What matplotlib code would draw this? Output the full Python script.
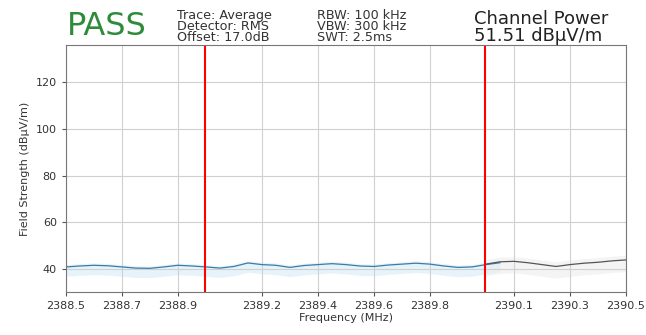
import matplotlib
matplotlib.use('Agg')
import matplotlib.pyplot as plt

# 频率 (MHz) 与场强 (dBuV/m)
freq_blue = [2388.5, 2388.55, 2388.6, 2388.65, 2388.7, 2388.75, 2388.8, 2388.85,
             2388.9, 2388.95, 2389.0, 2389.05, 2389.1, 2389.15, 2389.2, 2389.25,
             2389.3, 2389.35, 2389.4, 2389.45, 2389.5, 2389.55, 2389.6, 2389.65,
             2389.7, 2389.75, 2389.8, 2389.85, 2389.9, 2389.95, 2390.0, 2390.05]
level_blue = [40.8, 41.2, 41.5, 41.3, 40.8, 40.3, 40.2, 40.8,
              41.5, 41.2, 40.8, 40.3, 41.0, 42.5, 41.8, 41.5,
              40.6, 41.4, 41.8, 42.2, 41.8, 41.2, 41.0, 41.6,
              42.0, 42.4, 42.0, 41.2, 40.6, 40.8, 41.8, 42.6]
freq_gray = [2390.0, 2390.05, 2390.1, 2390.15, 2390.2, 2390.25, 2390.3,
             2390.35, 2390.4, 2390.45, 2390.5]
level_gray = [42.0, 43.0, 43.2, 42.6, 41.8, 41.0, 41.8, 42.4, 42.8, 43.4, 43.8]

band_lo, band_hi = 2388.995, 2389.995
xticks = [2388.5, 2388.7, 2388.9, 2389.2, 2389.4, 2389.6, 2389.8, 2390.1, 2390.3, 2390.5]
yticks = [40, 60, 80, 100, 120]

fig = plt.figure(figsize=(6.46, 3.35), dpi=100)
ax = fig.add_axes([0.102, 0.128, 0.867, 0.738])

# 背景的浅色带
ax.fill_between(freq_blue, [v - 4 for v in level_blue], [v + 1 for v in level_blue],
                color='#d6ecf7', alpha=0.6, lw=0)
ax.fill_between(freq_gray, [v - 5 for v in level_gray], [v + 2 for v in level_gray],
                color='#eeeeee', alpha=0.6, lw=0)

ax.plot(freq_blue, level_blue, color='#3a7ca8', lw=0.9)
ax.plot(freq_gray, level_gray, color='#555555', lw=0.9)

ax.axvline(band_lo, color='red', lw=1.5)
ax.axvline(band_hi, color='red', lw=1.5)

ax.set_xlim(2388.5, 2390.5)
ax.set_ylim(30, 136)
ax.set_xticks(xticks)
ax.set_xticklabels([f'{t:.1f}' for t in xticks])
ax.set_yticks(yticks)
ax.tick_params(labelsize=8, length=3, color='#555555', labelcolor='#333333')
ax.grid(True, color='#d0d0d0', lw=0.8)
for s in ax.spines.values():
    s.set_color('#777777')

ax.set_xlabel('Frequency (MHz)', fontsize=8, color='#333333', labelpad=1)
ax.set_ylabel('Field Strength (dBµV/m)', fontsize=8, color='#333333')

# 标题信息
fig.text(0.104, 0.895, 'PASS', fontsize=23, color='#2e8b3a')
fig.text(0.274, 0.877, 'Trace: Average\nDetector: RMS\nOffset: 17.0dB',
         fontsize=9.2, color='#333333', linespacing=0.8)
fig.text(0.491, 0.877, 'RBW: 100 kHz\nVBW: 300 kHz\nSWT: 2.5ms',
         fontsize=9.2, color='#333333', linespacing=0.8)
fig.text(0.734, 0.879, 'Channel Power\n51.51 dBµV/m',
         fontsize=13, color='#222222', linespacing=0.9)

plt.savefig('out.png', dpi=100)
